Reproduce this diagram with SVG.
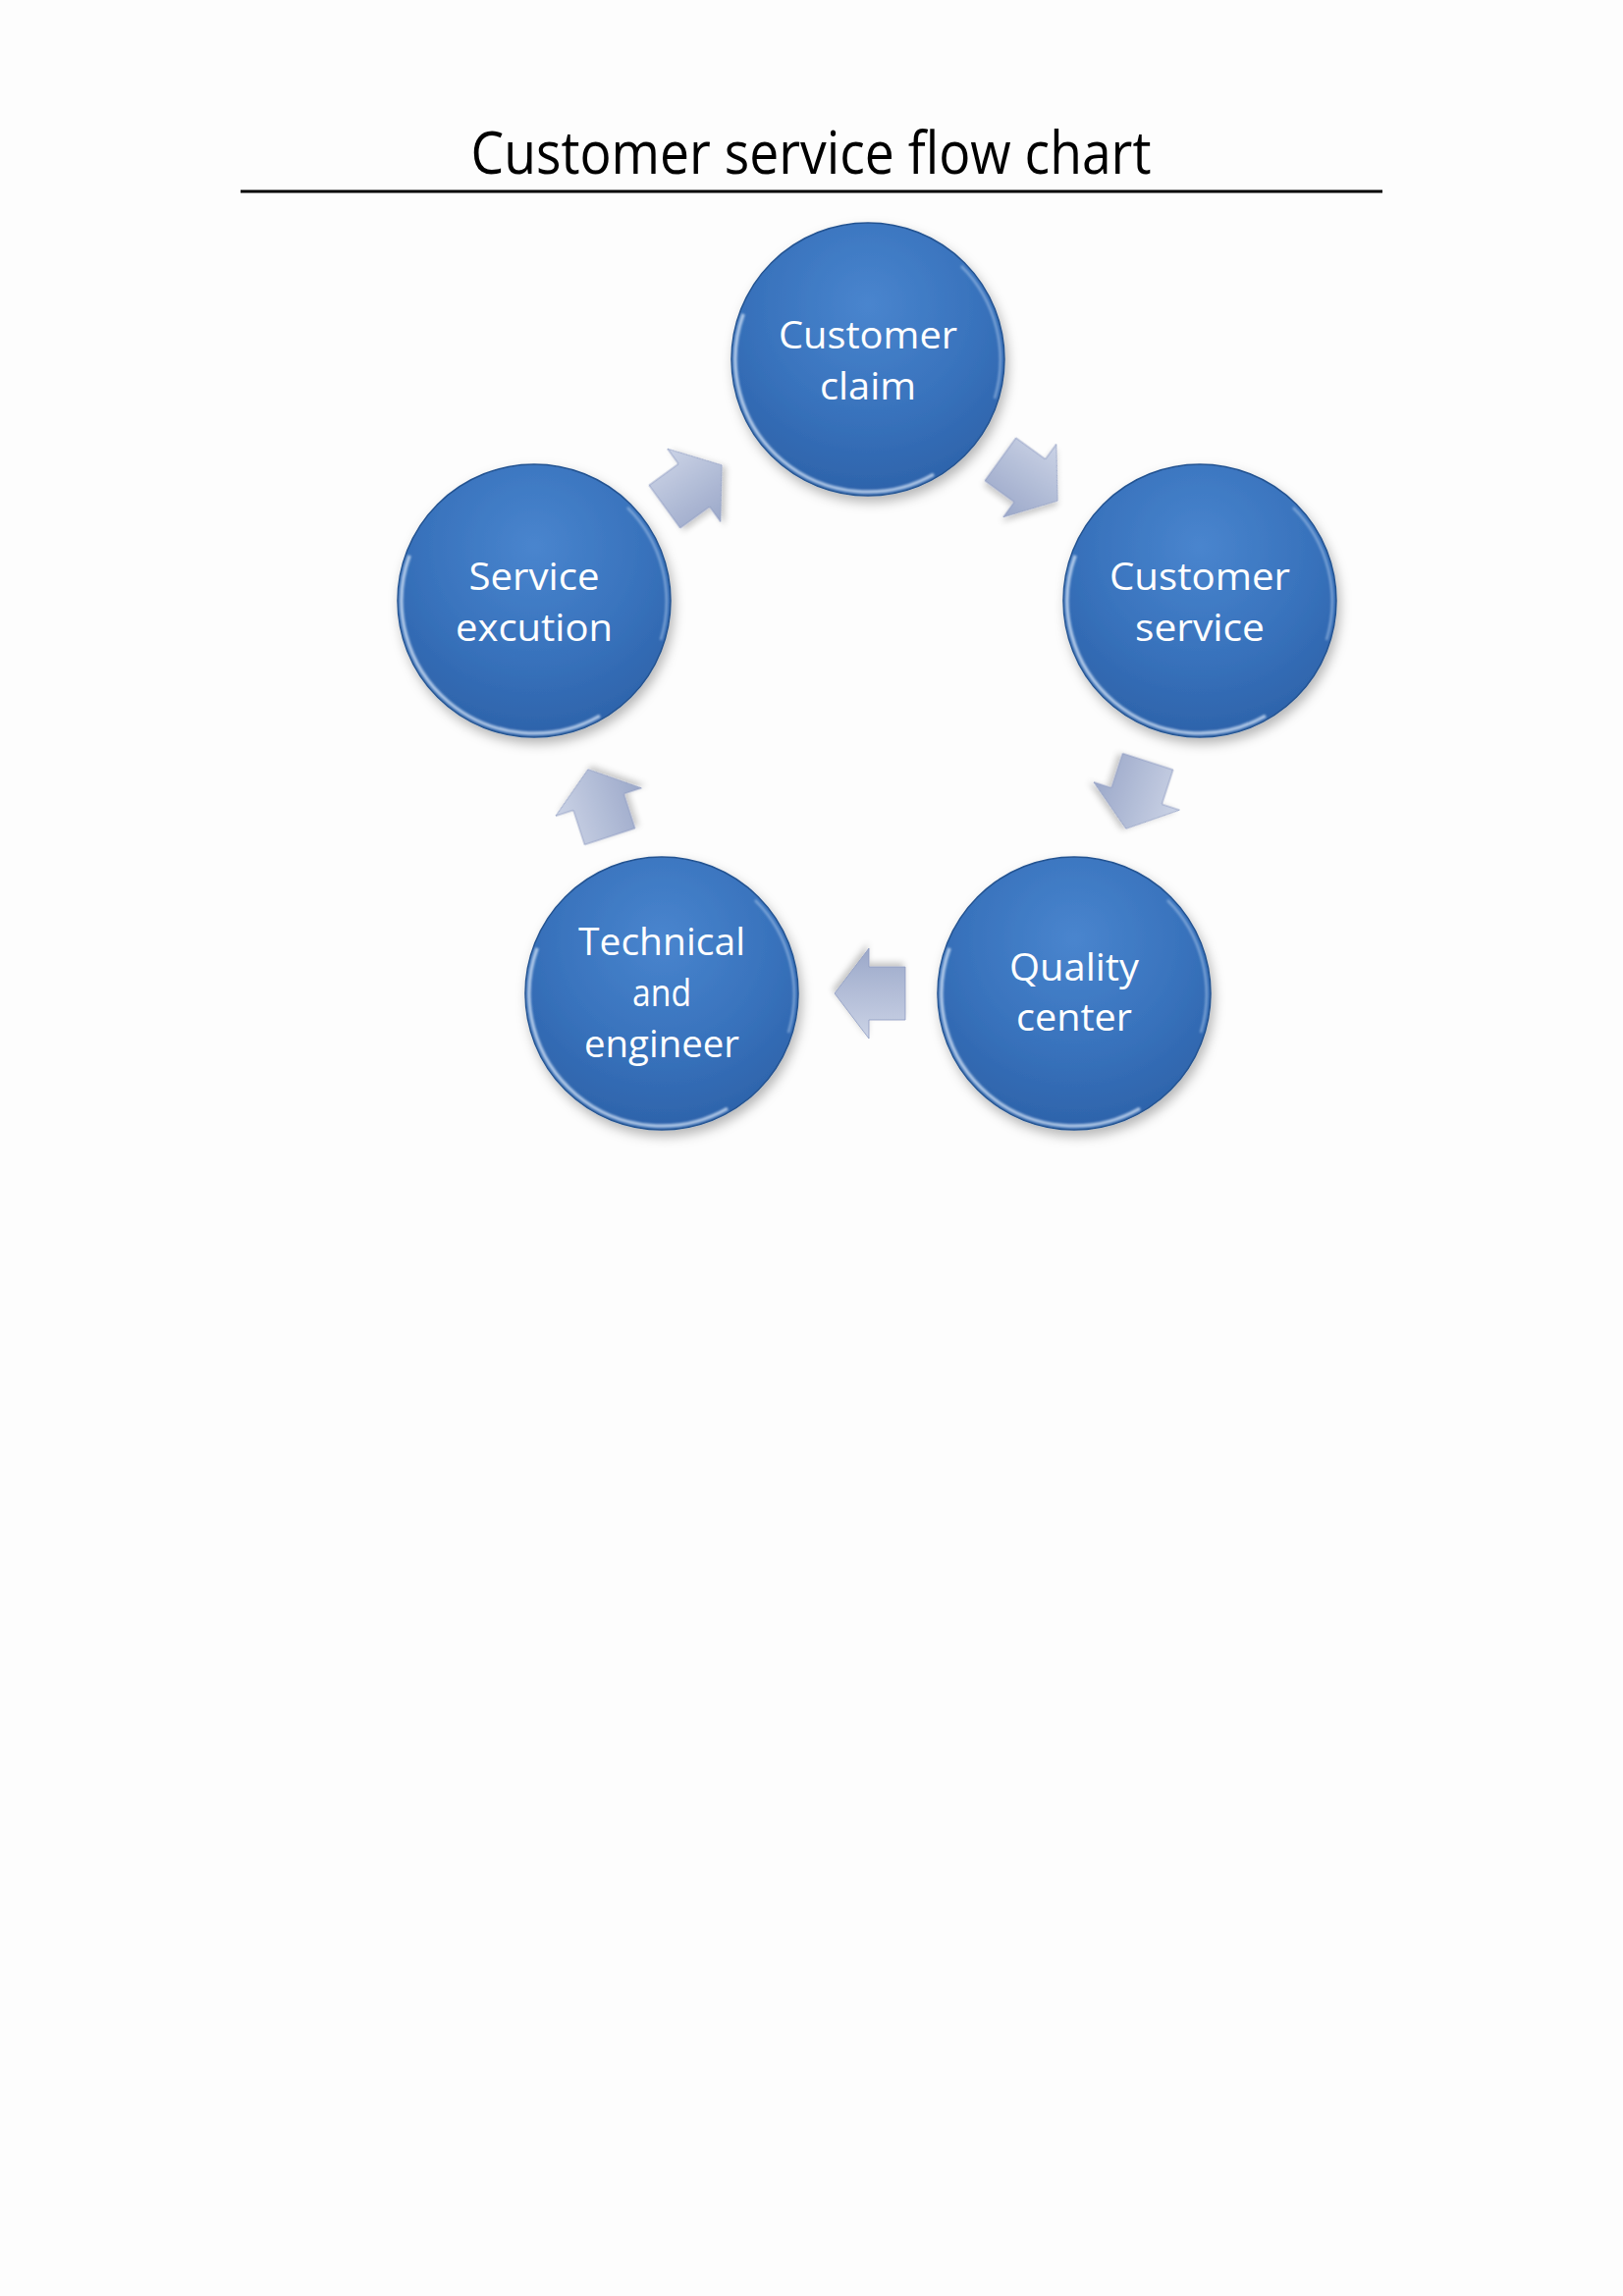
<svg xmlns="http://www.w3.org/2000/svg" xmlns:xlink="http://www.w3.org/1999/xlink" width="1653" height="2339" viewBox="0 0 1653 2339">
<style>
.title{font-family:"Open Sans","Liberation Sans",sans-serif;font-size:61px;fill:#000;text-anchor:middle}
.lbl{font-family:"Open Sans","Liberation Sans",sans-serif;font-size:39px;fill:#fff;text-anchor:middle}
</style>
<defs>
<radialGradient id="ballGrad" cx="50%" cy="30%" r="75%">
<stop offset="0" stop-color="#4985ce"/>
<stop offset="0.55" stop-color="#3872bc"/>
<stop offset="1" stop-color="#2b60a7"/>
</radialGradient>
<linearGradient id="arrGrad" x1="0" y1="0" x2="0" y2="1">
<stop offset="0" stop-color="#cbd3e6"/>
<stop offset="1" stop-color="#9ba8c9"/>
</linearGradient>
<filter id="shadow" x="-20%" y="-20%" width="150%" height="150%">
<feDropShadow dx="3" dy="6" stdDeviation="6" flood-color="#000" flood-opacity="0.28"/>
</filter>
<filter id="ashadow" x="-30%" y="-30%" width="170%" height="170%">
<feDropShadow dx="2" dy="4" stdDeviation="3" flood-color="#000" flood-opacity="0.22"/>
</filter>
<filter id="soft"><feGaussianBlur stdDeviation="1.2"/></filter>
<g id="ball">
<circle r="139" fill="url(#ballGrad)" stroke="#245391" stroke-width="1.5" filter="url(#shadow)"/>
<path d="M 67 117.2 A 135 135 0 0 1 -126.9 -46.2" fill="none" stroke="#d9e8fa" stroke-width="3.5" opacity="0.75" filter="url(#soft)"/>
<path d="M 129 40 A 135 135 0 0 0 95 -95" fill="none" stroke="#a9c6ea" stroke-width="2.5" opacity="0.6" filter="url(#soft)"/>
</g>
<g id="arrow">
<path d="M -36 -27 L 1 -27 L 1 -46 L 36 0 L 1 46 L 1 27 L -36 27 Z" fill="url(#arrGrad)" stroke="#8d9bc0" stroke-width="0.8" filter="url(#ashadow)"/>
<path d="M -33 -24 L -2 -24" stroke="#ffffff" stroke-width="2.5" opacity="0.8" filter="url(#soft)"/>
</g>
</defs>
<rect width="1653" height="2339" fill="#fdfdfd"/>
<g id="title">
<text class="title" x="826" y="177" textLength="693" lengthAdjust="spacingAndGlyphs">Customer service flow chart</text>
<line x1="245" y1="195" x2="1408" y2="195" stroke="#000" stroke-width="3"/>
</g>
<g id="connectors">
<use xlink:href="#arrow" transform="translate(1048,489) rotate(36)"/>
<use xlink:href="#arrow" transform="translate(1158,810) rotate(108)"/>
<use xlink:href="#arrow" transform="translate(886,1012) rotate(180)"/>
<use xlink:href="#arrow" transform="translate(610,818) rotate(252)"/>
<use xlink:href="#arrow" transform="translate(706,495) rotate(324)"/>
</g>
<g id="node-customer-claim">
<use xlink:href="#ball" x="884" y="366"/>
<text class="lbl" x="884" y="355" textLength="182" lengthAdjust="spacingAndGlyphs">Customer</text>
<text class="lbl" x="884" y="407" textLength="98" lengthAdjust="spacingAndGlyphs">claim</text>
</g>
<g id="node-customer-service">
<use xlink:href="#ball" x="1222" y="612"/>
<text class="lbl" x="1222" y="601" textLength="184" lengthAdjust="spacingAndGlyphs">Customer</text>
<text class="lbl" x="1222" y="653" textLength="132" lengthAdjust="spacingAndGlyphs">service</text>
</g>
<g id="node-quality-center">
<use xlink:href="#ball" x="1094" y="1012"/>
<text class="lbl" x="1094" y="999" textLength="132" lengthAdjust="spacingAndGlyphs">Quality</text>
<text class="lbl" x="1094" y="1050" textLength="118" lengthAdjust="spacingAndGlyphs">center</text>
</g>
<g id="node-technical-engineer">
<use xlink:href="#ball" x="674" y="1012"/>
<text class="lbl" x="674" y="973" textLength="170" lengthAdjust="spacingAndGlyphs">Technical</text>
<text class="lbl" x="674" y="1025" textLength="60" lengthAdjust="spacingAndGlyphs">and</text>
<text class="lbl" x="674" y="1077" textLength="158" lengthAdjust="spacingAndGlyphs">engineer</text>
</g>
<g id="node-service-excution">
<use xlink:href="#ball" x="544" y="612"/>
<text class="lbl" x="544" y="601" textLength="133" lengthAdjust="spacingAndGlyphs">Service</text>
<text class="lbl" x="544" y="653" textLength="160" lengthAdjust="spacingAndGlyphs">excution</text>
</g>
</svg>
